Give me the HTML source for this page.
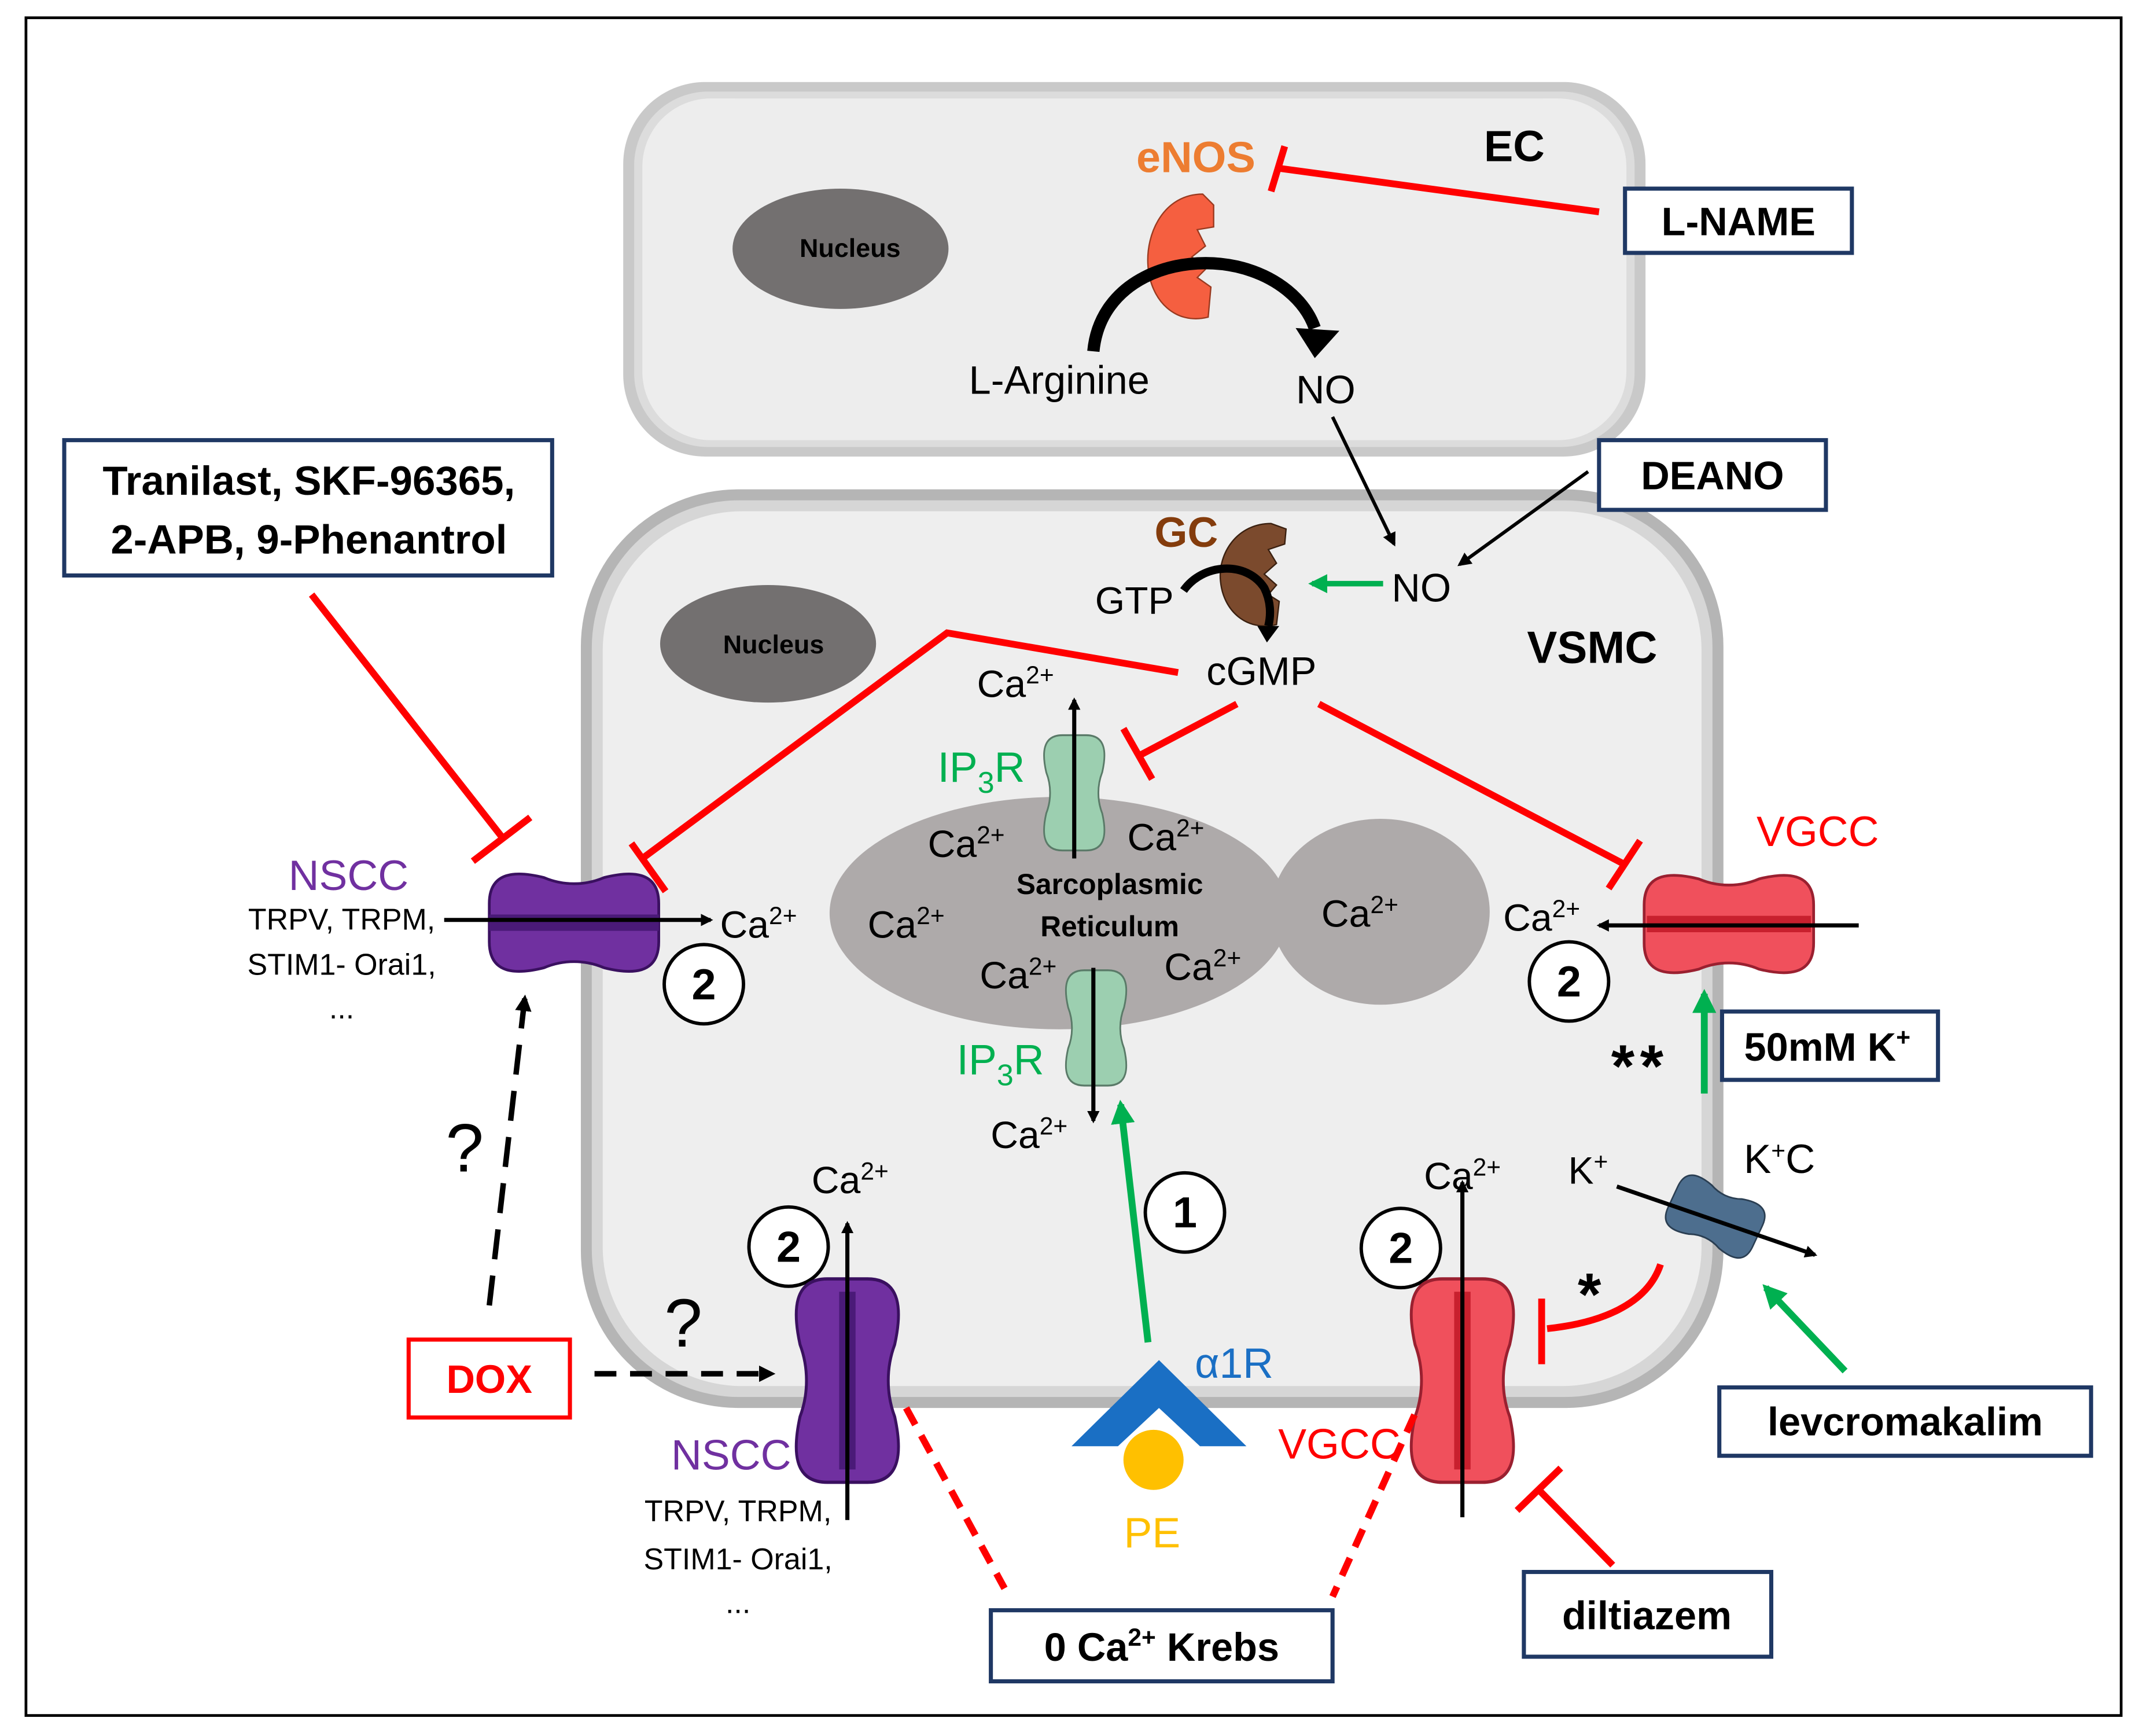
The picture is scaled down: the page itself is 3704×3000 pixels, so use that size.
<!DOCTYPE html>
<html><head><meta charset="utf-8"><style>
html,body{margin:0;padding:0;background:#fff}
svg{display:block}
text{font-family:"Liberation Sans Narrow","Liberation Sans",sans-serif}
.b{font-weight:bold}
</style></head><body>
<svg width="3704" height="3000" viewBox="0 0 1568 1270" preserveAspectRatio="none" xmlns="http://www.w3.org/2000/svg">
<defs>
<marker id="ak" viewBox="0 0 10 10" refX="8" refY="5" markerWidth="4" markerHeight="4" orient="auto" markerUnits="strokeWidth"><path d="M0,0 L10,5 L0,10 Z" fill="#000"/></marker>
<marker id="ag" viewBox="0 0 10 10" refX="8" refY="5" markerWidth="3.5" markerHeight="3.5" orient="auto" markerUnits="strokeWidth"><path d="M0,0 L10,5 L0,10 Z" fill="#00b050"/></marker>
<marker id="akb" viewBox="0 0 10 10" refX="8" refY="5" markerWidth="3" markerHeight="3" orient="auto" markerUnits="strokeWidth"><path d="M0,0 L10,5 L0,10 Z" fill="#000"/></marker>
<path id="ch" d="M-62,-14 C-62,-38 -42,-38 -22,-33 C-8,-27 8,-27 22,-33 C42,-38 62,-38 62,-14 L62,14 C62,38 42,38 22,33 C8,27 -8,27 -22,33 C-42,38 -62,38 -62,14 Z"/>
</defs>
<rect x="0" y="0" width="1568" height="1270" fill="#fff"/>
<rect x="19" y="13" width="1533" height="1242" fill="none" stroke="#000" stroke-width="2"/>

<!-- EC cell -->
<rect x="456" y="60" width="748" height="274" rx="60" fill="#c9c9c9"/>
<rect x="464" y="67" width="732" height="260" rx="54" fill="#dcdcdc"/>
<rect x="470" y="72" width="720" height="250" rx="50" fill="#ededed"/>
<ellipse cx="615" cy="182" rx="79" ry="44" fill="#737070"/>
<text x="622" y="188" font-size="19" class="b" text-anchor="middle">Nucleus</text>
<text x="875" y="126" font-size="32" class="b" fill="#ed7d31" text-anchor="middle">eNOS</text>
<text x="1108" y="118" font-size="32" class="b" text-anchor="middle">EC</text>
<path d="M880,142 C852,142 838,170 840,195 C842,220 860,238 884,232 L886,210 L876,203 L883,196 L872,188 L882,180 L876,168 L888,166 L888,150 Z" fill="#f55f40" stroke="#9a3a20" stroke-width="1"/>
<line x1="1170" y1="155" x2="935" y2="123" stroke="#f00" stroke-width="5"/>
<line x1="940" y1="107" x2="930" y2="140" stroke="#f00" stroke-width="5"/>
<rect x="1189" y="138" width="166" height="47" fill="#fff" stroke="#1f3864" stroke-width="3"/>
<text x="1272" y="172" font-size="29" class="b" text-anchor="middle">L-NAME</text>
<path d="M800,257 C805,205 860,185 905,195 C935,202 955,220 962,240" fill="none" stroke="#000" stroke-width="9"/>
<path d="M948,240 L980,242 L962,262 Z" fill="#000"/>
<text x="775" y="288" font-size="29" text-anchor="middle">L-Arginine</text>
<text x="970" y="295" font-size="29" text-anchor="middle">NO</text>

<!-- VSMC cell -->
<rect x="425" y="358" width="836" height="672" rx="115" fill="#b5b5b5"/>
<rect x="433" y="366" width="820" height="656" rx="108" fill="#d6d6d6"/>
<rect x="441" y="374" width="804" height="640" rx="102" fill="#eeeeee"/>
<ellipse cx="562" cy="471" rx="79" ry="43" fill="#737070"/>
<text x="566" y="478" font-size="19" class="b" text-anchor="middle">Nucleus</text>

<line x1="975" y1="305" x2="1020" y2="398" stroke="#000" stroke-width="2.5" marker-end="url(#ak)"/>
<rect x="1170" y="322" width="166" height="51" fill="#fff" stroke="#1f3864" stroke-width="3"/>
<text x="1253" y="358" font-size="29" class="b" text-anchor="middle">DEANO</text>
<line x1="1162" y1="345" x2="1068" y2="413" stroke="#000" stroke-width="2.5" marker-end="url(#ak)"/>
<text x="868" y="400" font-size="31" class="b" fill="#843c0c" text-anchor="middle">GC</text>
<path d="M930,383 C905,383 891,405 893,425 C895,447 912,462 934,457 L936,440 L928,435 L934,428 L925,420 L934,412 L928,402 L940,398 L941,387 Z" fill="#7b4a2d" stroke="#3a2010" stroke-width="1"/>
<text x="830" y="449" font-size="28" text-anchor="middle">GTP</text>
<path d="M866,432 C880,412 912,410 925,430 C930,440 930,450 928,458" fill="none" stroke="#000" stroke-width="6"/>
<path d="M920,458 L936,458 L927,470 Z" fill="#000"/>
<line x1="1012" y1="427" x2="960" y2="427" stroke="#00b050" stroke-width="4" marker-end="url(#ag)"/>
<text x="1040" y="440" font-size="29" text-anchor="middle">NO</text>
<text x="923" y="501" font-size="29" text-anchor="middle">cGMP</text>
<text x="1165" y="485" font-size="33" class="b" text-anchor="middle">VSMC</text>

<!-- SR -->
<ellipse cx="1010" cy="667" rx="80" ry="68" fill="#aeaaaa"/>
<ellipse cx="775" cy="668" rx="168" ry="85" fill="#aeaaaa"/>
<text x="812" y="654" font-size="21" class="b" text-anchor="middle">Sarcoplasmic</text>
<text x="812" y="685" font-size="21" class="b" text-anchor="middle">Reticulum</text>
<g font-size="28" text-anchor="middle">
<text x="743" y="510">Ca<tspan font-size="18" dy="-10">2+</tspan></text>
<text x="707" y="627">Ca<tspan font-size="18" dy="-10">2+</tspan></text>
<text x="853" y="622">Ca<tspan font-size="18" dy="-10">2+</tspan></text>
<text x="663" y="686">Ca<tspan font-size="18" dy="-10">2+</tspan></text>
<text x="745" y="723">Ca<tspan font-size="18" dy="-10">2+</tspan></text>
<text x="880" y="717">Ca<tspan font-size="18" dy="-10">2+</tspan></text>
<text x="995" y="678">Ca<tspan font-size="18" dy="-10">2+</tspan></text>
<text x="753" y="840">Ca<tspan font-size="18" dy="-10">2+</tspan></text>
<text x="555" y="686">Ca<tspan font-size="18" dy="-10">2+</tspan></text>
<text x="1128" y="681">Ca<tspan font-size="18" dy="-10">2+</tspan></text>
<text x="622" y="873">Ca<tspan font-size="18" dy="-10">2+</tspan></text>
<text x="1070" y="870">Ca<tspan font-size="18" dy="-10">2+</tspan></text>
</g>
<!-- IP3R -->
<use href="#ch" transform="translate(786,580) rotate(90) scale(0.68,0.62)" fill="#9ccfb0" stroke="#5a7a68" stroke-width="2"/>
<use href="#ch" transform="translate(802,752) rotate(90) scale(0.68,0.62)" fill="#9ccfb0" stroke="#5a7a68" stroke-width="2"/>
<line x1="786" y1="628" x2="786" y2="512" stroke="#000" stroke-width="3" marker-end="url(#akb)"/>
<line x1="800" y1="708" x2="800" y2="820" stroke="#000" stroke-width="3" marker-end="url(#akb)"/>
<text x="718" y="572" font-size="31" fill="#00b050" text-anchor="middle">IP<tspan font-size="22" dy="8">3</tspan><tspan dy="-8">R</tspan></text>
<text x="732" y="786" font-size="31" fill="#00b050" text-anchor="middle">IP<tspan font-size="22" dy="8">3</tspan><tspan dy="-8">R</tspan></text>

<!-- red inhibitions from cGMP -->
<polyline points="862,492 693,463 470,628" fill="none" stroke="#f00" stroke-width="5"/>
<line x1="462" y1="617" x2="487" y2="652" stroke="#f00" stroke-width="5"/>
<line x1="905" y1="515" x2="835" y2="552" stroke="#f00" stroke-width="5"/>
<line x1="822" y1="533" x2="843" y2="570" stroke="#f00" stroke-width="5"/>
<line x1="965" y1="515" x2="1188" y2="632" stroke="#f00" stroke-width="5"/>
<line x1="1200" y1="615" x2="1177" y2="650" stroke="#f00" stroke-width="5"/>

<!-- Tranilast -->
<rect x="47" y="322" width="357" height="99" fill="#fff" stroke="#1f3864" stroke-width="3"/>
<text x="226" y="362" font-size="30" class="b" text-anchor="middle">Tranilast, SKF-96365,</text>
<text x="226" y="405" font-size="30" class="b" text-anchor="middle">2-APB, 9-Phenantrol</text>
<line x1="228" y1="435" x2="367" y2="612" stroke="#f00" stroke-width="5"/>
<line x1="346" y1="630" x2="388" y2="598" stroke="#f00" stroke-width="5"/>

<!-- left NSCC -->
<use href="#ch" transform="translate(420,675)" fill="#7030a0" stroke="#3a1060" stroke-width="2"/>
<line x1="358" y1="675" x2="482" y2="675" stroke="#4a1a78" stroke-width="12"/>
<line x1="325" y1="673" x2="520" y2="673" stroke="#000" stroke-width="3" marker-end="url(#akb)"/>
<text x="255" y="651" font-size="31" fill="#7030a0" text-anchor="middle">NSCC</text>
<text x="250" y="680" font-size="22" text-anchor="middle">TRPV, TRPM,</text>
<text x="250" y="713" font-size="22" text-anchor="middle">STIM1- Orai1,</text>
<text x="250" y="745" font-size="22" text-anchor="middle">...</text>
<g fill="#fff" stroke="#000" stroke-width="2.5">
<circle cx="515" cy="720" r="29"/><circle cx="577" cy="912" r="29"/><circle cx="1025" cy="913" r="29"/><circle cx="1148" cy="718" r="29"/><circle cx="867" cy="887" r="29"/>
</g>
<g font-size="32" class="b" text-anchor="middle">
<text x="515" y="731">2</text><text x="577" y="923">2</text><text x="1025" y="924">2</text><text x="1148" y="729">2</text><text x="867" y="898">1</text>
</g>

<!-- right VGCC -->
<use href="#ch" transform="translate(1265,676)" fill="#f0505c" stroke="#9a2030" stroke-width="2"/>
<line x1="1205" y1="676" x2="1325" y2="676" stroke="#c8202e" stroke-width="12"/>
<line x1="1360" y1="677" x2="1170" y2="677" stroke="#000" stroke-width="3" marker-end="url(#akb)"/>
<text x="1330" y="619" font-size="31" fill="#f00" text-anchor="middle">VGCC</text>
<line x1="1247" y1="800" x2="1247" y2="727" stroke="#00b050" stroke-width="5" marker-end="url(#ag)"/>
<text x="1200" y="795" font-size="44" class="b" text-anchor="middle" letter-spacing="4">**</text>
<rect x="1260" y="740" width="158" height="50" fill="#fff" stroke="#1f3864" stroke-width="3"/>
<text x="1337" y="776" font-size="29" class="b" text-anchor="middle">50mM K<tspan font-size="18" dy="-11">+</tspan></text>

<!-- K channel -->
<use href="#ch" transform="translate(1255,890) rotate(25) scale(0.55,0.6)" fill="#4d6e8e" stroke="#2a3e52" stroke-width="2"/>
<line x1="1183" y1="868" x2="1328" y2="918" stroke="#000" stroke-width="3" marker-end="url(#akb)"/>
<text x="1162" y="866" font-size="28" text-anchor="middle">K<tspan font-size="18" dy="-10">+</tspan></text>
<text x="1302" y="858" font-size="30" text-anchor="middle">K<tspan font-size="18" dy="-10">+</tspan><tspan dy="10">C</tspan></text>
<path d="M1215,925 C1205,955 1170,968 1132,972" fill="none" stroke="#f00" stroke-width="5"/>
<line x1="1128" y1="950" x2="1128" y2="998" stroke="#f00" stroke-width="5"/>
<text x="1163" y="962" font-size="44" class="b" text-anchor="middle">*</text>
<line x1="1350" y1="1003" x2="1292" y2="942" stroke="#00b050" stroke-width="5" marker-end="url(#ag)"/>
<rect x="1258" y="1015" width="272" height="50" fill="#fff" stroke="#1f3864" stroke-width="3"/>
<text x="1394" y="1050" font-size="29" class="b" text-anchor="middle">levcromakalim</text>

<!-- bottom VGCC -->
<use href="#ch" transform="translate(1070,1010) rotate(90) scale(1.2,1.05)" fill="#f0505c" stroke="#9a2030" stroke-width="2"/>
<line x1="1070" y1="945" x2="1070" y2="1075" stroke="#c8202e" stroke-width="12"/>
<line x1="1070" y1="1110" x2="1070" y2="865" stroke="#000" stroke-width="3" marker-end="url(#akb)"/>
<text x="980" y="1067" font-size="31" fill="#f00" text-anchor="middle">VGCC</text>
<rect x="1115" y="1150" width="181" height="62" fill="#fff" stroke="#1f3864" stroke-width="3"/>
<text x="1205" y="1192" font-size="29" class="b" text-anchor="middle">diltiazem</text>
<line x1="1180" y1="1145" x2="1126" y2="1090" stroke="#f00" stroke-width="5"/>
<line x1="1110" y1="1105" x2="1142" y2="1074" stroke="#f00" stroke-width="5"/>

<!-- bottom NSCC -->
<use href="#ch" transform="translate(620,1010) rotate(90) scale(1.2,1.05)" fill="#7030a0" stroke="#3a1060" stroke-width="2"/>
<line x1="620" y1="945" x2="620" y2="1075" stroke="#4a1a78" stroke-width="12"/>
<line x1="620" y1="1112" x2="620" y2="895" stroke="#000" stroke-width="3" marker-end="url(#akb)"/>
<text x="535" y="1075" font-size="31" fill="#7030a0" text-anchor="middle">NSCC</text>
<text x="540" y="1113" font-size="22" text-anchor="middle">TRPV, TRPM,</text>
<text x="540" y="1148" font-size="22" text-anchor="middle">STIM1- Orai1,</text>
<text x="540" y="1180" font-size="22" text-anchor="middle">...</text>

<!-- alpha1R -->
<line x1="840" y1="982" x2="820" y2="808" stroke="#00b050" stroke-width="5" marker-end="url(#ag)"/>
<path d="M848,995 L912,1058 L878,1058 L848,1030 L818,1058 L784,1058 Z" fill="#1a6fc4"/>
<circle cx="844" cy="1068" r="22" fill="#ffc000"/>
<text x="903" y="1008" font-size="31" fill="#1a6fc4" text-anchor="middle">α1R</text>
<text x="843" y="1132" font-size="31" fill="#ffc000" text-anchor="middle">PE</text>

<!-- DOX -->
<rect x="299" y="980" width="118" height="57" fill="#fff" stroke="#f00" stroke-width="3"/>
<text x="358" y="1019" font-size="29" class="b" fill="#f00" text-anchor="middle">DOX</text>
<line x1="435" y1="1005" x2="565" y2="1005" stroke="#000" stroke-width="4" stroke-dasharray="16,10" marker-end="url(#akb)"/>
<line x1="358" y1="955" x2="384" y2="730" stroke="#000" stroke-width="4" stroke-dasharray="22,12" marker-end="url(#akb)"/>
<text x="500" y="985" font-size="50" text-anchor="middle">?</text>
<text x="340" y="857" font-size="50" text-anchor="middle">?</text>

<!-- 0 Ca Krebs -->
<line x1="663" y1="1030" x2="735" y2="1162" stroke="#f00" stroke-width="5" stroke-dasharray="14,9"/>
<line x1="1035" y1="1035" x2="975" y2="1168" stroke="#f00" stroke-width="5" stroke-dasharray="14,9"/>
<rect x="725" y="1178" width="250" height="52" fill="#fff" stroke="#1f3864" stroke-width="3"/>
<text x="850" y="1215" font-size="29" class="b" text-anchor="middle">0 Ca<tspan font-size="18" dy="-11">2+</tspan><tspan dy="11"> Krebs</tspan></text>
</svg>
</body></html>
